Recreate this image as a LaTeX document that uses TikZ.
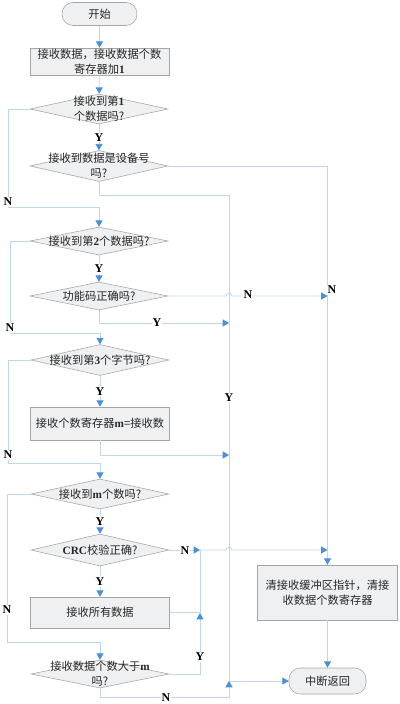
\documentclass[tikz,border=0pt]{standalone}
\usepackage{fontspec}
\setmainfont{Liberation Serif}
\newfontfamily\cjk{Noto Sans CJK SC}
\usetikzlibrary{arrows.meta,shapes.geometric}
\definecolor{flowline}{HTML}{BED7EE}
\definecolor{flowtip}{HTML}{4A90D9}
\definecolor{boxfill}{HTML}{EEF0F1}
\definecolor{boxline}{HTML}{A5A5A5}
\newcommand\lat[1]{{\rmfamily\bfseries #1}}

\tikzset{
  wire/.style={draw=flowline, line width=0.6pt},
  arr/.style={wire, -{Triangle[length=4.5pt,width=5pt,color=flowtip]}},
  procbox/.style={rectangle, draw=boxline, fill=boxfill, inner sep=0pt, align=center,
    text=black!85, font=\cjk\fontsize{8}{10.5}\selectfont},
  termbox/.style={procbox, rounded corners=8pt},
  testbox/.style={diamond, draw=boxline, fill=boxfill, inner sep=0pt,
    minimum width=3.45cm, minimum height=0.75cm},
  testtext/.style={align=center, inner sep=0pt, text=black!85,
    font=\cjk\fontsize{8}{10.5}\selectfont},
  yn/.style={font=\rmfamily\bfseries\fontsize{8.5}{9}\selectfont, fill=white, inner sep=0.8pt}
}

\begin{document}
\begin{tikzpicture}[x=0.025cm,y=-0.025cm]
\useasboundingbox (0,0) rectangle (400,704);
% left column
\node[termbox,minimum width=1.875cm,minimum height=0.575cm] (start) at (99.5,14) {开始};
\node[procbox,minimum width=3.475cm,minimum height=0.675cm] (recv) at (99.5,61.5) {接收数据，接收数据个数\\寄存器加\lat{1}};
\node[testbox] (q1) at (99,109) {};
\node[testtext] at (q1) {接收到第\lat{1}\\个数据吗?};
\node[testbox,minimum height=0.775cm] (q2) at (99,166) {};
\node[testtext] at (q2) {接收到数据是设备号\\吗?};
\node[testbox,minimum height=0.7cm] (q3) at (99,241) {};
\node[testtext] at (q3) {接收到第\lat{2}个数据吗?};
\node[testbox,minimum height=0.7cm] (q4) at (99,296) {};
\node[testtext] at (q4) {功能码正确吗?};
\node[testbox,minimum height=0.775cm] (q5) at (100,360) {};
\node[testtext] at (q5) {接收到第\lat{3}个字节吗?};
\node[procbox,minimum width=3.475cm,minimum height=0.825cm] (setm) at (100,423.5) {接收个数寄存器\lat{m}=接收数};
\node[testbox] (q6) at (100,494) {};
\node[testtext] at (q6) {接收到\lat{m}个数吗?};
\node[testbox,minimum height=0.8cm] (q7) at (100,550) {};
\node[testtext] at (q7) {\lat{CRC}校验正确?};
\node[procbox,minimum width=3.475cm,minimum height=0.775cm] (takeall) at (100,612.5) {接收所有数据};
\node[testbox,minimum height=0.7cm] (q8) at (100,674) {};
\node[testtext] at (q8) {接收数据个数大于\lat{m}\\吗?};
% right column
\node[procbox,minimum width=3.5cm,minimum height=1.375cm] (clear) at (327.5,592.5) {清接收缓冲区指针，清接\\收数据个数寄存器};
\node[termbox,minimum width=1.925cm,minimum height=0.65cm] (done) at (327.5,681) {中断返回};
\coordinate (crcjoin) at (200,550);

% main path
\draw[arr] (start) -- (recv);
\draw[arr] (recv) -- (q1);
\draw[arr] (q1) -- (q2) node[yn,midway] {Y};
\draw[arr] (q1.west) -| (8,207) -| (q3.north);
\node[yn] at (8,202) {N};
\draw[arr] (q2.east) -| (clear.north);
\draw[arr] (q2.south) |- (229,195) |- (done.west);
\node[yn] at (229,398) {Y};
\draw[arr] (q3) -- (q4) node[yn,midway] {Y};
\draw[arr] (q3.west) -| (10,333) -| (q5.north);
\node[yn] at (10,328) {N};
\draw[arr] (q4.east) -- (226.2,296) arc[start angle=180,end angle=0,radius=2pt] -- (327.5,296);
\node[yn] at (248,295) {N};
\node[yn] at (332,290) {N};
\draw[arr] (q4.south) |- (229,323);
\node[yn] at (157,323) {Y};
\draw[arr] (q5) -- (setm) node[yn,midway] {Y};
\draw[arr] (q5.west) -| (8,463) -| (q6.north);
\node[yn] at (8,455) {N};
\draw[arr] (setm.south) |- (229,455);
\draw[arr] (q6) -- (q7) node[yn,midway] {Y};
\draw[arr] (q6.west) -| (7,642) -| (q8.north);
\node[yn] at (7,610) {N};
\draw[arr] (q7) -- (takeall) node[yn,midway] {Y};
\draw[arr] (q7.east) -- (crcjoin);
\node[yn] at (185,551) {N};
\draw[arr] (crcjoin) -- (226.2,550) arc[start angle=180,end angle=0,radius=2pt] -- (327.5,550);
\draw[wire] (takeall.east) -| (crcjoin);
\draw[arr] (q8.east) -| (200,613);
\node[yn] at (200,657) {Y};
\draw[arr] (q8.south) |- (229,697) -- (229,681);
\node[yn] at (166,698) {N};
\draw[arr] (clear) -- (done);
\end{tikzpicture}
\end{document}
